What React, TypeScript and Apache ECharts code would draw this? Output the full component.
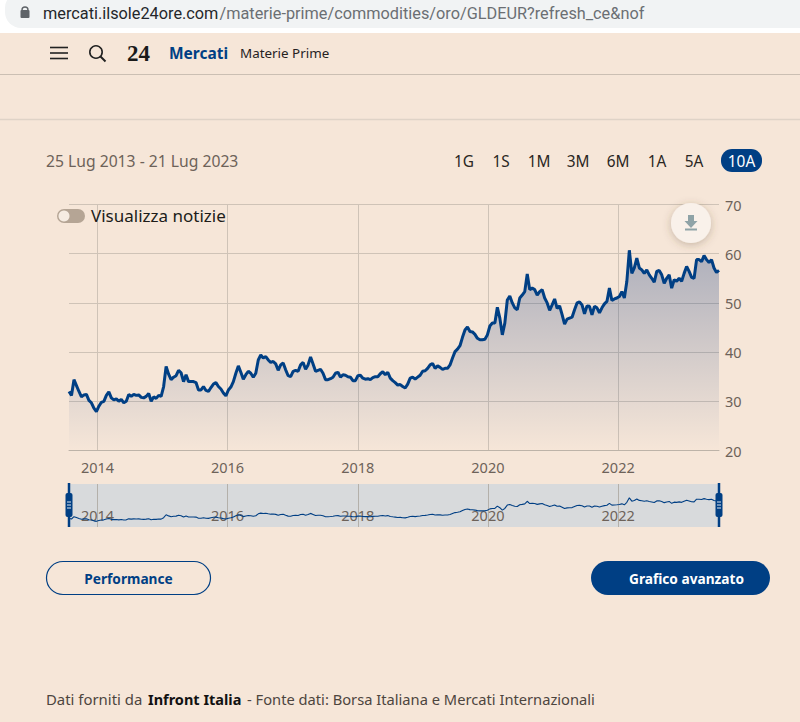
import React, { useEffect, useRef } from 'react';
import * as echarts from 'echarts';

// GLD/EUR, one value about every two weeks
const startDate = new Date(2013, 6, 25).getTime();
const endDate = new Date(2023, 6, 21).getTime();

const values2013to2014 = [
  32.0, 31.2, 34.4, 33.2, 32.0, 30.9, 31.3, 31.4, 30.2, 29.7, 28.6, 27.9, 29.0, 29.8, 30.0, 31.2,
  31.9, 30.7, 30.3, 30.5, 30.0, 30.4, 29.7, 30.0, 31.4, 31.0, 31.4, 31.2, 31.3, 30.8, 30.7, 31.0,
  31.6, 30.0, 30.9, 30.6, 31.2, 31.0, 33.0, 37.1, 35.5, 34.4, 34.9, 35.2, 36.3, 35.8, 34.0,
];
const values2015to2016 = [
  35.4, 34.0, 34.0, 34.0, 33.8, 32.3, 32.3, 33.0, 32.2, 32.0, 32.8, 33.5, 33.8, 33.0, 32.5, 31.7,
  31.1, 32.3, 32.9, 34.0, 35.7, 37.2, 35.9, 34.5, 35.4, 36.1, 35.7, 34.9, 35.7, 38.4, 39.4, 38.8,
  39.1, 38.4, 37.9, 38.1, 37.6, 36.3, 37.4, 37.8, 36.4, 35.2, 35.0, 36.1,
];
const values2017to2018 = [
  36.3, 36.1, 37.4, 37.9, 36.5, 37.4, 39.0, 37.6, 36.1, 36.3, 36.5, 35.7, 34.4, 34.4, 34.6, 34.9,
  35.7, 35.9, 34.9, 35.4, 35.3, 35.0, 34.9, 34.2, 34.2, 35.2, 35.3, 34.7, 34.5, 34.6, 34.4, 34.8,
  35.0, 35.0, 35.6, 36.0, 35.4, 35.9, 34.7, 34.2, 33.8, 33.3, 33.4, 33.0,
];
const values2019to2020 = [
  32.7, 33.5, 34.7, 34.9, 34.5, 34.9, 35.3, 36.1, 36.2, 36.7, 37.4, 37.7, 36.7, 37.2, 36.9, 36.5,
  36.7, 36.7, 37.4, 38.8, 40.1, 40.6, 41.3, 43.0, 44.5, 45.1, 44.2, 44.1, 43.6, 42.8, 42.5, 42.5,
  42.6, 43.5, 45.3, 45.9, 45.9, 49.1, 46.9, 43.5, 45.9, 50.6, 51.4, 50.0, 49.0, 48.6, 51.0, 51.6,
  52.3, 55.9, 52.7, 53.0, 52.7, 51.6, 52.3, 52.7, 51.0, 50.0, 48.5,
];
const values2021to2023 = [
  49.6, 50.8, 48.9, 49.4, 47.6, 45.7, 46.7, 46.9, 47.1, 48.6, 50.0, 50.2, 49.6, 47.8, 49.4, 49.3,
  47.6, 49.3, 49.0, 48.0, 49.0, 49.8, 50.3, 53.0, 50.5, 50.8, 51.0, 51.3, 52.3, 51.0, 54.4, 60.7,
  56.0, 57.1, 59.1, 57.1, 56.7, 56.0, 56.7, 55.7, 55.0, 54.2, 56.4, 56.6, 55.7, 54.0, 55.0, 55.7,
  53.0, 54.7, 54.4, 55.0, 54.4, 56.0, 57.4, 56.4, 55.2, 55.0, 58.8, 58.8, 58.4, 59.6, 58.8, 58.2,
  58.8, 57.1, 56.2, 56.6,
];
const prices = [
  ...values2013to2014,
  ...values2015to2016,
  ...values2017to2018,
  ...values2019to2020,
  ...values2021to2023,
];
const seriesData = prices.map((v, i) => [
  startDate + (i * (endDate - startDate)) / (prices.length - 1),
  v,
]);

const tickYears = [2014, 2016, 2018, 2020, 2022];
const yearTicks = tickYears.map((y) => new Date(y, 0, 1).getTime());
const rangeButtons = [
  ['1G', 464],
  ['1S', 501],
  ['1M', 539],
  ['3M', 578],
  ['6M', 618],
  ['1A', 657],
  ['5A', 694],
];

const BLUE = '#003f84';
const BG = '#f6e6d8';
const GREY_TEXT = '#6d6259';
const GRID_LINE = '#cfc3b7';
const FONT = '"Noto Sans", sans-serif';

const txt = (x: number, y: number, text: string, size: number, fill: string, extra: any = {}) => ({
  type: 'text',
  x,
  y,
  silent: true,
  style: {
    text,
    fill,
    fontSize: size,
    fontFamily: FONT,
    textAlign: 'left',
    textVerticalAlign: 'middle',
    ...extra,
  },
});

const seg = (x1: number, y1: number, x2: number, y2: number, stroke: string, lineWidth = 1) => ({
  type: 'line',
  silent: true,
  shape: { x1, y1, x2, y2 },
  style: { stroke, lineWidth },
});

const box = (x: number, y: number, width: number, height: number, r: number, style: any) => ({
  type: 'rect',
  silent: true,
  shape: { x, y, width, height, r },
  style,
});

const sliderHandle = (x: number) => [
  seg(x, 483, x, 527, BLUE, 2.5),
  box(x - 3.5, 493, 7, 24, 2, { fill: BLUE }),
  seg(x - 2, 502, x + 2, 502, '#dfe6ee', 1),
  seg(x - 2, 505, x + 2, 505, '#dfe6ee', 1),
  seg(x - 2, 508, x + 2, 508, '#dfe6ee', 1),
];

const pageGraphics: any[] = [
  // browser bar
  box(0, 0, 800, 33, 0, { fill: '#ffffff' }),
  box(5, -8, 830, 36, 16, { fill: '#f1f3f4' }),
  box(20.5, 10, 9, 8, 1, { fill: '#5f6368' }),
  { type: 'arc', silent: true, shape: { cx: 25, cy: 10, r: 3, startAngle: Math.PI, endAngle: 0 }, style: { stroke: '#5f6368', fill: 'none', lineWidth: 1.4 } },
  txt(43, 13, 'mercati.ilsole24ore.com', 16.3, '#24272b', { fontFamily: 'Roboto' }),
  txt(219.5, 13, '/materie-prime/commodities/oro/GLDEUR?refresh_ce&nof', 16.3, '#6b6f73', { fontFamily: 'Roboto' }),

  // site header
  seg(50, 47.5, 68, 47.5, '#222222', 1.6),
  seg(50, 53, 68, 53, '#222222', 1.6),
  seg(50, 58.5, 68, 58.5, '#222222', 1.6),
  { type: 'circle', silent: true, shape: { cx: 96, cy: 52, r: 6.2 }, style: { stroke: '#222222', fill: 'none', lineWidth: 1.6 } },
  seg(100.5, 56.5, 105.5, 61.5, '#222222', 2),
  txt(127, 53, '24', 23, '#1a1a1a', { fontFamily: '"Liberation Serif"', fontWeight: 'bold' }),
  txt(169, 53, 'Mercati', 15.5, BLUE, { fontWeight: 'bold' }),
  txt(240, 53, 'Materie Prime', 13.4, '#26221f'),
  seg(0, 74.5, 800, 74.5, '#cbbfb3', 1),
  seg(0, 119.5, 800, 119.5, '#dfd3c7', 1.5),

  // period and range buttons
  txt(46, 161, '25 Lug 2013 - 21 Lug 2023', 15.7, GREY_TEXT),
  ...rangeButtons.map(([label, x]) => txt(x as number, 161, label as string, 15.4, '#2a2623', { textAlign: 'center' })),
  box(721, 149, 41, 23, 11, { fill: BLUE }),
  txt(741.5, 161, '10A', 15.4, '#ffffff', { textAlign: 'center' }),

  // news toggle
  box(57, 209, 28, 14, 7, { fill: '#b5a595' }),
  { type: 'circle', silent: true, shape: { cx: 64, cy: 216, r: 5.5 }, style: { fill: '#f6ece2' } },
  { ...txt(91, 215.5, 'Visualizza notizie', 17, '#201c19'), z: 10 },

  // download button
  {
    type: 'circle',
    silent: true,
    z: 10,
    shape: { cx: 691, cy: 223, r: 20 },
    style: { fill: '#f9f1ea', shadowBlur: 8, shadowColor: 'rgba(90,70,50,0.3)', shadowOffsetY: 2 },
  },
  { type: 'polygon', silent: true, z: 11, shape: { points: [[688, 215], [694, 215], [694, 221], [697.5, 221], [691, 228], [684.5, 221], [688, 221]] }, style: { fill: '#8fa3a7' } },
  { ...seg(685, 229.5, 697, 229.5, '#8fa3a7', 2), z: 11 },

  // slider handles
  ...sliderHandle(69).map((g) => ({ ...g, z: 10 })),
  ...sliderHandle(719).map((g) => ({ ...g, z: 10 })),

  // bottom buttons
  box(46.5, 561.5, 164, 33, 16.5, { fill: 'none', stroke: BLUE, lineWidth: 1.2 }),
  txt(128.5, 578, 'Performance', 13.7, BLUE, { fontWeight: 'bold', textAlign: 'center' }),
  box(591, 561, 179, 34, 17, { fill: BLUE }),
  txt(686.5, 578, 'Grafico avanzato', 13.7, '#ffffff', { fontWeight: 'bold', textAlign: 'center' }),

  // footer
  txt(46, 698.5, 'Dati forniti da', 14.9, '#4d453e'),
  txt(148, 698.5, 'Infront Italia', 14.5, '#111111', { fontWeight: 'bold' }),
  txt(247, 698.5, '- Fonte dati: Borsa Italiana e Mercati Internazionali', 14.7, '#4d453e'),
];

const yearLabel = (v: number) => String(new Date(v).getFullYear());

const App: React.FC = () => {
  const chartRef = useRef<HTMLDivElement>(null);

  useEffect(() => {
    document.body.style.margin = '0';
    if (!chartRef.current) return;
    const chart = echarts.init(chartRef.current, undefined, { renderer: 'svg' });
    const option: any = {
      animation: false,
      backgroundColor: BG,
      textStyle: { fontFamily: FONT },
      grid: [
        { left: 69, right: 81, top: 204.5, height: 246 },
        { left: 69, right: 81, top: 484, height: 43, show: true, backgroundColor: '#d8dadc', borderWidth: 0 },
      ],
      xAxis: [
        {
          type: 'value',
          gridIndex: 0,
          min: startDate,
          max: endDate,
          axisLine: { show: true, lineStyle: { color: '#bdb3a8' } },
          axisTick: { show: false, customValues: yearTicks },
          splitLine: { show: true, lineStyle: { color: GRID_LINE, type: 'solid' } },
          axisLabel: {
            customValues: yearTicks,
            formatter: yearLabel,
            color: GREY_TEXT,
            fontSize: 14.5,
            fontFamily: FONT,
            margin: 9,
          },
        },
        {
          type: 'value',
          gridIndex: 1,
          min: startDate,
          max: endDate,
          axisLine: { show: false },
          axisTick: { show: false, customValues: yearTicks },
          splitLine: { show: true, lineStyle: { color: '#b4b0aa', type: 'solid' } },
          axisLabel: {
            customValues: yearTicks,
            formatter: yearLabel,
            inside: true,
            color: GREY_TEXT,
            fontSize: 14.5,
            fontFamily: FONT,
            margin: 5,
          },
        },
      ],
      yAxis: [
        {
          type: 'value',
          gridIndex: 0,
          position: 'right',
          min: 20,
          max: 70,
          interval: 10,
          axisLine: { show: false },
          axisTick: { show: false },
          splitLine: { lineStyle: { color: GRID_LINE, type: 'solid' } },
          axisLabel: { color: GREY_TEXT, fontSize: 14.5, fontFamily: FONT, margin: 6 },
        },
        {
          type: 'value',
          gridIndex: 1,
          min: 20,
          max: 80,
          axisLine: { show: false },
          axisTick: { show: false },
          splitLine: { show: false },
          axisLabel: { show: false },
        },
      ],
      series: [
        {
          type: 'line',
          xAxisIndex: 0,
          yAxisIndex: 0,
          data: seriesData,
          showSymbol: false,
          lineStyle: { color: BLUE, width: 3 },
          areaStyle: {
            origin: 'start',
            color: new echarts.graphic.LinearGradient(0, 0, 0, 1, [
              { offset: 0, color: 'rgba(0,45,120,0.42)' },
              { offset: 1, color: 'rgba(0,45,120,0)' },
            ]),
          },
        },
        {
          type: 'line',
          xAxisIndex: 1,
          yAxisIndex: 1,
          data: seriesData,
          showSymbol: false,
          lineStyle: { color: BLUE, width: 1.1 },
        },
      ],
      graphic: { elements: pageGraphics },
    };
    chart.setOption(option);

    return () => {
      chart.dispose();
    };
  }, []);

  return <div ref={chartRef} style={{ width: '800px', height: '722px' }}></div>;
};

export default App;
